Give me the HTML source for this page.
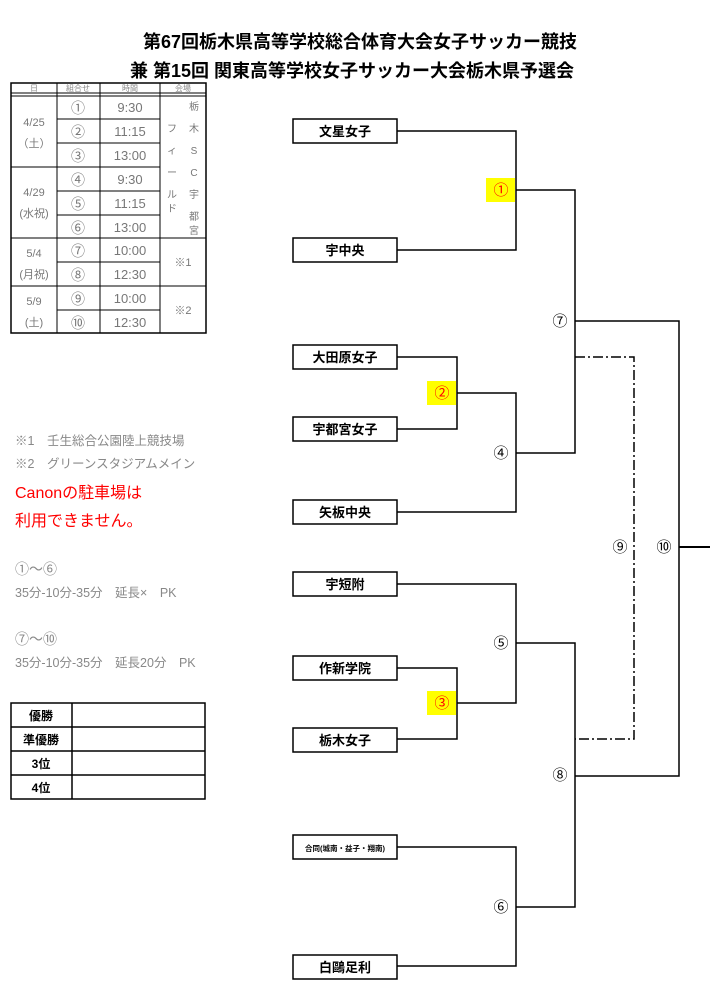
<!DOCTYPE html>
<html><head><meta charset="utf-8"><style>
body{margin:0;background:#fff;}
svg text{font-family:"Liberation Sans","Noto Sans CJK JP",sans-serif;}
</style></head><body>
<svg width="725" height="1001" viewBox="0 0 725 1001" xmlns="http://www.w3.org/2000/svg">
<rect width="725" height="1001" fill="#fff"/>
<g font-size="18" font-weight="bold" text-anchor="middle" fill="#000">
<text x="360" y="48">第67回栃木県高等学校総合体育大会女子サッカー競技</text>
<text x="352" y="77">兼 第15回 関東高等学校女子サッカー大会栃木県予選会</text>
</g>
<!-- schedule table -->
<g stroke="#000" fill="none">
<rect x="11" y="83" width="195" height="250" stroke-width="1.5"/>
<line x1="11" y1="93" x2="206" y2="93" stroke-width="1"/>
<line x1="11" y1="96" x2="206" y2="96" stroke-width="1"/>
<line x1="57" y1="83" x2="57" y2="333"/>
<line x1="100" y1="83" x2="100" y2="333"/>
<line x1="160" y1="83" x2="160" y2="333"/>
<line x1="57" y1="119" x2="160" y2="119"/><line x1="57" y1="143" x2="160" y2="143"/>
<line x1="11" y1="167" x2="160" y2="167"/>
<line x1="57" y1="191" x2="160" y2="191"/><line x1="57" y1="215" x2="160" y2="215"/>
<line x1="11" y1="238" x2="206" y2="238"/>
<line x1="57" y1="262" x2="160" y2="262"/>
<line x1="11" y1="286" x2="206" y2="286"/>
<line x1="57" y1="310" x2="160" y2="310"/>
</g>
<g font-size="8" fill="#888" text-anchor="middle">
<text x="34" y="91">日</text><text x="78" y="91">組合せ</text><text x="130" y="91">時間</text><text x="183" y="91">会場</text>
</g>
<g font-size="14" fill="#777" text-anchor="middle">
<text x="78" y="113">①</text><text x="130" y="112" font-size="13">9:30</text>
<text x="78" y="137">②</text><text x="130" y="136" font-size="13">11:15</text>
<text x="78" y="161">③</text><text x="130" y="160" font-size="13">13:00</text>
<text x="78" y="185">④</text><text x="130" y="184" font-size="13">9:30</text>
<text x="78" y="209">⑤</text><text x="130" y="208" font-size="13">11:15</text>
<text x="78" y="233">⑥</text><text x="130" y="232" font-size="13">13:00</text>
<text x="78" y="256">⑦</text><text x="130" y="255" font-size="13">10:00</text>
<text x="78" y="280">⑧</text><text x="130" y="279" font-size="13">12:30</text>
<text x="78" y="304">⑨</text><text x="130" y="303" font-size="13">10:00</text>
<text x="78" y="328">⑩</text><text x="130" y="327" font-size="13">12:30</text>
<g font-size="11">
<text x="34" y="126">4/25</text><text x="34" y="147">（土）</text>
<text x="34" y="196">4/29</text><text x="34" y="217">(水祝)</text>
<text x="34" y="257">5/4</text><text x="34" y="278">(月祝)</text>
<text x="34" y="305">5/9</text><text x="34" y="326">(土)</text>
<text x="183" y="266">※1</text><text x="183" y="314">※2</text>
</g>
<g font-size="10">
<text x="194" y="110">栃</text><text x="194" y="132">木</text><text x="194" y="154">S</text><text x="194" y="176">C</text><text x="194" y="198">宇</text><text x="194" y="220">都</text><text x="194" y="242" dy="-8">宮</text>
<text x="172" y="132">フ</text><text x="172" y="154">ィ</text><text x="172" y="176">ー</text><text x="172" y="190" dy="8">ル</text><text x="172" y="212">ド</text>
</g>
</g>
<!-- notes -->
<g font-size="12.5" fill="#888">
<text x="15" y="445">※1　壬生総合公園陸上競技場</text>
<text x="15" y="468">※2　グリーンスタジアムメイン</text>
<text x="15" y="574" font-size="14">①〜⑥</text>
<text x="15" y="597">35分-10分-35分　延長×　PK</text>
<text x="15" y="644" font-size="14">⑦〜⑩</text>
<text x="15" y="667">35分-10分-35分　延長20分　PK</text>
</g>
<g font-size="16" fill="#f00">
<text x="15" y="498">Canonの駐車場は</text>
<text x="15" y="526">利用できません。</text>
</g>
<!-- results table -->
<g stroke="#000" fill="none" stroke-width="1.5">
<rect x="11" y="703" width="194" height="96"/>
<line x1="72" y1="703" x2="72" y2="799"/>
<line x1="11" y1="727" x2="205" y2="727"/><line x1="11" y1="751" x2="205" y2="751"/><line x1="11" y1="775" x2="205" y2="775"/>
</g>
<g font-size="12" font-weight="bold" text-anchor="middle">
<text x="41" y="720">優勝</text><text x="41" y="744">準優勝</text><text x="41" y="768">3位</text><text x="41" y="792">4位</text>
</g>
<!-- team boxes -->
<g stroke="#000" stroke-width="1.5" fill="#fff">
<rect x="293" y="119" width="104" height="24"/>
<rect x="293" y="238" width="104" height="24"/>
<rect x="293" y="345" width="104" height="24"/>
<rect x="293" y="417" width="104" height="24"/>
<rect x="293" y="500" width="104" height="24"/>
<rect x="293" y="572" width="104" height="24"/>
<rect x="293" y="656" width="104" height="24"/>
<rect x="293" y="728" width="104" height="24"/>
<rect x="293" y="835" width="104" height="24"/>
<rect x="293" y="955" width="104" height="24"/>
</g>
<g font-size="13" font-weight="bold" text-anchor="middle">
<text x="345" y="136">文星女子</text>
<text x="345" y="255">宇中央</text>
<text x="345" y="362">大田原女子</text>
<text x="345" y="434">宇都宮女子</text>
<text x="345" y="517">矢板中央</text>
<text x="345" y="589">宇短附</text>
<text x="345" y="673">作新学院</text>
<text x="345" y="745">栃木女子</text>
<text x="345" y="851" font-size="7.5">合同(城南・益子・翔南)</text>
<text x="345" y="972">白鷗足利</text>
</g>
<!-- bracket lines -->
<g stroke="#000" stroke-width="1.5" fill="none">
<polyline points="397,131 516,131 516,250 397,250"/>
<polyline points="516,190 575,190 575,453 516,453"/>
<polyline points="397,357 457,357 457,429 397,429"/>
<polyline points="457,393 516,393 516,512 397,512"/>
<polyline points="575,321 679,321 679,776 575,776"/>
<polyline points="397,584 516,584 516,703 457,703"/>
<polyline points="397,668 457,668 457,739 397,739"/>
<polyline points="516,643 575,643 575,907 516,907"/>
<polyline points="397,847 516,847 516,966 397,966"/>
<line x1="679" y1="547" x2="710" y2="547" stroke-width="2"/>
<polyline points="575,357 634,357 634,739 575,739" stroke-dasharray="10,3,2,3"/>
</g>
<!-- labels -->
<rect x="486" y="178" width="29" height="24" fill="#ff0"/>
<rect x="427" y="381" width="29" height="24" fill="#ff0"/>
<rect x="427" y="691" width="29" height="24" fill="#ff0"/>
<g font-size="15" text-anchor="middle">
<text x="501" y="195" fill="#f00">①</text>
<text x="442" y="398" fill="#f00">②</text>
<text x="442" y="708" fill="#f00">③</text>
<text x="560" y="326">⑦</text>
<text x="501" y="458">④</text>
<text x="501" y="648">⑤</text>
<text x="560" y="780">⑧</text>
<text x="501" y="912">⑥</text>
<text x="620" y="552">⑨</text>
<text x="664" y="552">⑩</text>
</g>
</svg>
</body></html>
